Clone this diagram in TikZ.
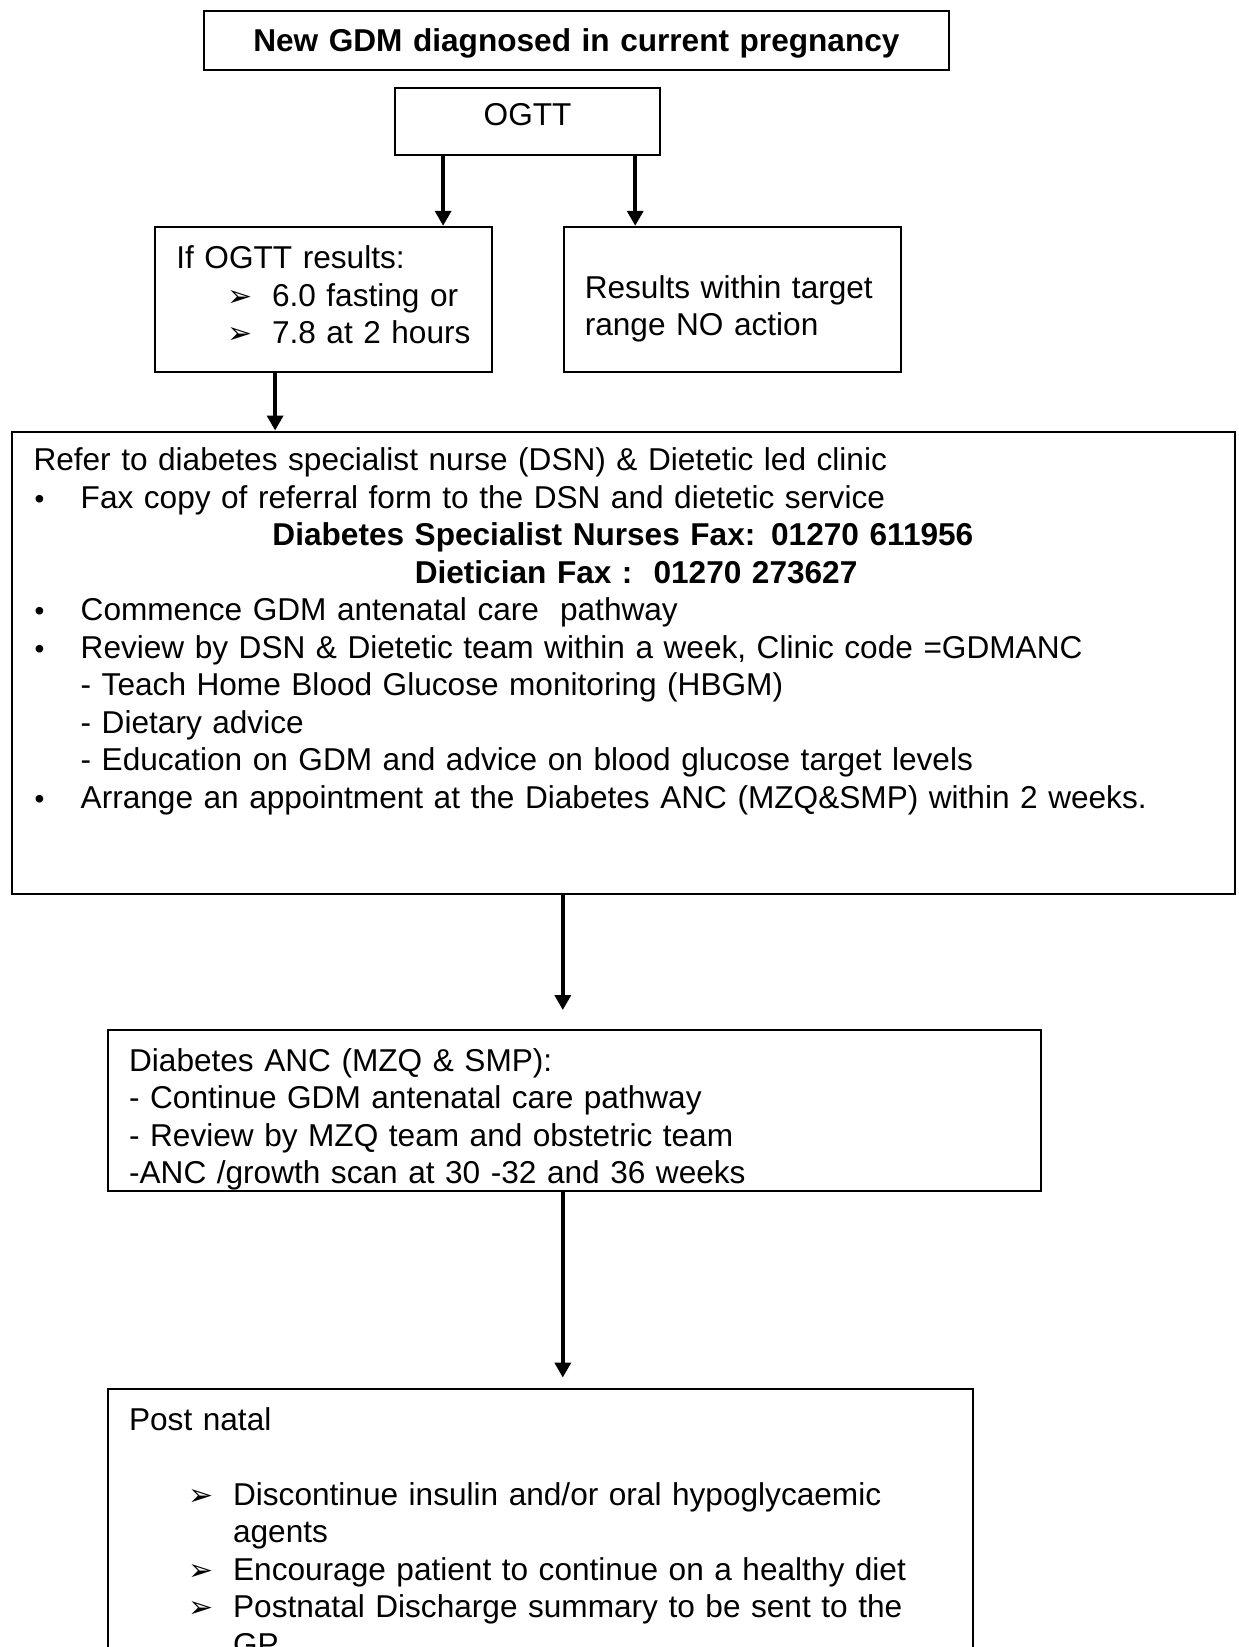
\documentclass[tikz,border=0pt]{standalone}
\usepackage{fontspec}
\setmainfont{Liberation Sans}
\newfontfamily\dingfont{DejaVu Sans}
\usetikzlibrary{arrows.meta, positioning}

% bullets used inside the boxes
\newcommand{\dotitem}{\hspace*{0.5pt}\makebox[23.1pt][l]{\fontsize{14}{14}\selectfont\textbullet}}
\newcommand{\subline}{\hspace*{23.6pt}}
\newcommand{\arrowitem}[2]{\hspace*{#1}\makebox[#2][l]{\dingfont\fontsize{15}{15}\selectfont ➢}}

\begin{document}
\begin{tikzpicture}[
    x=1pt, y=1pt,
    font=\fontsize{15.8}{18.75}\selectfont,
    box/.style={
      draw, line width=1pt, anchor=north west,
      inner ysep=0pt, align=left},
    flow/.style={
      -{Triangle[length=7.5pt, width=8pt]}, line width=1.8pt},
]
\useasboundingbox (0,0) rectangle (619,-823.5);

\node[box, align=center, inner xsep=0pt, text width=372.8pt,
      text height=20pt, text depth=9.4pt, font=\fontsize{15.8}{18.75}\selectfont\bfseries]
  (gdm) at (101.3,-5.25) {New GDM diagnosed in current pregnancy};

\node[box, align=center, inner xsep=0pt, text width=132.8pt,
      text height=18.9pt, text depth=14.7pt]
  (ogtt) at (196.9,-43.6) {OGTT};

\node[box, inner xsep=10.5pt, text width=147.5pt,
      text height=21pt, text depth=51.4pt]
  (high) at (77.2,-112.9) {\mbox{If OGTT results:}\\
  \arrowitem{25.7pt}{22.1pt}\mbox{6.0 fasting or}\\
  \arrowitem{25.7pt}{22.1pt}\mbox{7.8 at 2 hours}};

\node[box, inner xsep=10.5pt, text width=147.5pt,
      text height=35.7pt, text depth=36.7pt]
  (normal) at (281.4,-112.9) {\mbox{Results within target}\\\mbox{range NO action}};

\node[box, inner xsep=11pt, text width=589.6pt,
      text height=19.5pt, text depth=211.5pt]
  (refer) at (5.25,-215.25) {Refer to diabetes specialist nurse (DSN) \& Dietetic led clinic\\
  \dotitem Fax copy of referral form to the DSN and dietetic service\\
  \hspace*{294.7pt}\makebox[0pt]{\bfseries Diabetes Specialist Nurses Fax: 01270 611956}\\
  \hspace*{301.3pt}\makebox[0pt]{\bfseries Dietician Fax :\ \ 01270 273627}\\
  \dotitem Commence GDM antenatal care\ \ pathway\\
  \dotitem Review by DSN \& Dietetic team within a week, Clinic code =GDMANC\\
  \subline - Teach Home Blood Glucose monitoring (HBGM)\\
  \subline - Dietary advice\\
  \subline - Education on GDM and advice on blood glucose target levels\\
  \dotitem Arrange an appointment at the Diabetes ANC (MZQ\&SMP) within 2 weeks.};

\node[box, inner xsep=10.5pt, text width=445.2pt,
      text height=20.5pt, text depth=59.8pt]
  (anc) at (53.55,-514.5) {Diabetes ANC (MZQ \& SMP):\\
  - Continue GDM antenatal care pathway\\
  - Review by MZQ team and obstetric team\\
  -ANC /growth scan at 30 -32 and 36 weeks};

\node[box, inner xsep=10.5pt, text width=411.6pt,
      text height=20.5pt, text depth=150pt]
  (post) at (53.55,-694.05) {Post natal\\[18.75pt]
  \arrowitem{29.5pt}{22.5pt}Discontinue insulin and/or oral hypoglycaemic\\
  \hspace*{52pt}agents\\
  \arrowitem{29.5pt}{22.5pt}Encourage patient to continue on a healthy diet\\
  \arrowitem{29.5pt}{22.5pt}Postnatal Discharge summary to be sent to the\\
  \hspace*{52pt}GP};

% connectors
\draw[flow] ([xshift=24.65pt]ogtt.south west) -- ([xshift=24.65pt]ogtt.south west |- high.north);
\draw[flow] ([xshift=-13.1pt]ogtt.south east) -- ([xshift=-13.1pt]ogtt.south east |- normal.north);
\draw[flow] ([xshift=60.35pt]high.south west) -- ([xshift=60.35pt]high.south west |- refer.north);
\draw[flow, shorten >=9.5pt] ([xshift=276.15pt]refer.south west) -- ([xshift=276.15pt]refer.south west |- anc.north);
\draw[flow, shorten >=5.3pt] ([xshift=227.85pt]anc.south west) -- ([xshift=227.85pt]anc.south west |- post.north);

\end{tikzpicture}
\end{document}
